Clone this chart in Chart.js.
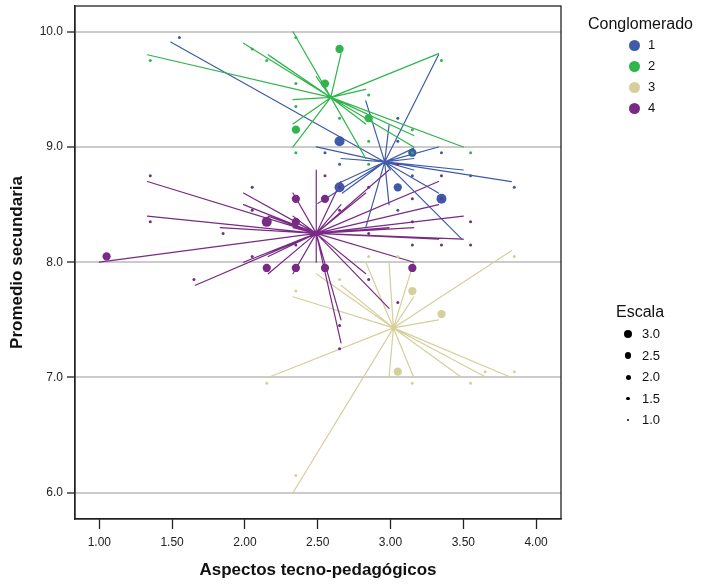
<!DOCTYPE html>
<html>
<head>
<meta charset="utf-8">
<script src="https://cdn.jsdelivr.net/npm/chart.js@4/dist/chart.umd.min.js"></script>
<style>
  body { margin: 0; background: #fff; font-family: "Liberation Sans", Arial, sans-serif; }
  #wrap { position: absolute; left: 0; top: 0; width: 702px; height: 584px; }
  .lg { position: absolute; color: #111; white-space: nowrap; }
  .dot { position: absolute; border-radius: 50%; }
</style>
</head>
<body>
<div id="wrap"><canvas id="myChart"></canvas></div>
<div id="legend"></div>
<script>
// Ticks
const xTicks = [1.0, 1.5, 2.0, 2.5, 3.0, 3.5, 4.0];
const yTicks = [6.0, 7.0, 8.0, 9.0, 10.0];

const clusterNames = ['1', '2', '3', '4'];
const clusterColors = ['#3d5aab', '#2eb54b', '#d5cf9a', '#782a84'];
const escalaLevels = [3.0, 2.5, 2.0, 1.5, 1.0];

// Centroides
const centroid1 = [2.96, 8.87];
const centroid2 = [2.59, 9.43];
const centroid3 = [3.02, 7.43];
const centroid4 = [2.49, 8.25];

// Extremos de las lineas (casos)
const lineEnds1 = [[1.49, 9.91], [3.33, 9.8], [2.49, 9.0], [2.83, 9.4], [2.99, 9.19], [3.33, 9.0],
  [3.5, 8.8], [3.83, 8.7], [2.66, 8.9], [3.16, 8.9], [2.65, 8.69], [2.67, 8.6], [2.83, 8.3],
  [3.49, 8.2], [3.33, 8.6], [2.99, 8.5], [2.5, 8.51], [3.16, 8.8], [3.0, 8.8], [3.16, 8.99]];
const lineEnds2 = [[1.33, 9.8], [1.99, 9.9], [2.16, 9.8], [2.17, 9.79], [2.33, 10.0], [2.33, 9.41],
  [2.33, 9.2], [2.33, 9.0], [2.49, 9.61], [2.66, 9.81], [3.33, 9.81], [2.83, 9.5], [3.16, 9.1],
  [3.16, 9.0], [3.5, 9.0], [2.83, 8.9], [2.83, 9.2]];
const lineEnds3 = [[3.83, 8.1], [2.83, 8.0], [2.99, 8.0], [3.16, 7.7], [3.33, 7.5], [2.66, 7.8],
  [2.49, 7.9], [2.33, 7.7], [2.16, 7.0], [2.33, 6.0], [2.99, 7.0], [3.16, 7.0], [3.49, 7.0],
  [3.66, 7.0], [3.83, 7.0], [3.16, 8.0]];
const lineEnds4 = [[1.33, 8.7], [1.99, 8.6], [1.99, 8.5], [1.33, 8.4], [1.83, 8.3], [1.0, 8.0],
  [1.66, 7.8], [1.99, 8.0], [2.16, 7.9], [2.33, 7.9], [2.33, 8.6], [2.49, 8.8], [2.49, 8.0],
  [2.99, 8.8], [3.33, 8.7], [3.33, 8.5], [3.5, 8.4], [3.16, 8.3], [3.5, 8.2], [3.33, 8.2],
  [3.16, 8.0], [2.83, 7.9], [2.99, 7.6], [2.66, 7.5], [2.66, 7.3], [2.66, 8.5], [2.83, 8.6],
  [2.16, 8.4], [2.33, 8.4], [2.16, 8.05], [2.33, 8.3], [2.99, 8.3], [2.66, 8.7]];

// Puntos: [x, y, escala]
const dots1 = [[1.55, 9.95, 1], [2.65, 9.05, 3], [3.05, 9.25, 1], [3.05, 9.05, 1], [2.55, 8.95, 1],
  [2.65, 8.85, 1], [3.35, 8.95, 1], [3.55, 8.75, 1], [3.85, 8.65, 1], [2.65, 8.65, 3], [3.35, 8.55, 3],
  [3.05, 8.65, 2.5], [3.05, 8.45, 1], [3.15, 8.75, 1], [3.15, 8.95, 2.5]];
const dots2 = [[1.35, 9.75, 1], [2.05, 9.85, 1], [2.15, 9.75, 1], [2.35, 9.95, 1], [2.35, 9.55, 1],
  [2.35, 9.35, 1], [2.35, 9.15, 2.5], [2.35, 8.95, 1], [2.65, 9.85, 2.5], [2.55, 9.55, 2.5],
  [3.35, 9.75, 1], [2.85, 9.45, 1], [2.85, 9.25, 2.5], [2.65, 9.25, 1], [3.55, 8.95, 1],
  [3.15, 9.15, 1], [2.85, 9.05, 1], [2.85, 8.85, 1], [3.15, 8.95, 1]];
const dots3 = [[2.85, 8.05, 1], [3.05, 8.05, 1], [3.85, 8.05, 1], [2.65, 7.85, 1], [3.15, 7.75, 2.5],
  [3.35, 7.55, 2.5], [2.35, 7.75, 1], [2.15, 6.95, 1], [2.35, 6.15, 1], [3.05, 7.05, 2.5],
  [3.15, 6.95, 1], [3.55, 6.95, 1], [3.65, 7.05, 1], [3.85, 7.05, 1]];
const dots4 = [[1.35, 8.75, 1], [2.05, 8.65, 1], [2.05, 8.45, 1], [2.15, 8.35, 3], [1.35, 8.35, 1],
  [1.85, 8.25, 1], [1.05, 8.05, 2.5], [1.65, 7.85, 1], [2.05, 8.05, 1], [2.15, 7.95, 2.5],
  [2.35, 7.95, 2.5], [2.35, 8.55, 2.5], [2.35, 8.35, 2.5], [2.35, 8.15, 1], [2.55, 8.75, 1],
  [2.55, 8.55, 2.5], [3.35, 8.75, 1], [3.15, 8.55, 1], [3.15, 8.35, 1], [3.55, 8.35, 1],
  [3.15, 8.15, 1], [3.35, 8.15, 1], [3.55, 8.15, 1], [2.85, 8.25, 1], [2.85, 8.65, 1],
  [3.05, 8.85, 1], [2.65, 8.45, 1], [2.65, 8.65, 1], [2.55, 7.95, 2.5], [3.15, 7.95, 2.5],
  [2.85, 7.85, 1], [3.05, 7.65, 1], [2.65, 7.45, 1], [2.65, 7.25, 1], [3.35, 8.55, 1]];

const centroids = [centroid1, centroid2, centroid3, centroid4];
const lineEnds = [lineEnds1, lineEnds2, lineEnds3, lineEnds4];
const dots = [dots1, dots2, dots3, dots4];

function escalaRadius(e) {
    return 1.5 + (e - 1) * 1.75;
}

// estrella: centroide -> caso -> centroide ...
function starData(c, ends) {
    const pts = [{ x: c[0], y: c[1] }];
    ends.forEach(e => {
        pts.push({ x: e[0], y: e[1] });
        pts.push({ x: c[0], y: c[1] });
    });
    return pts;
}

const datasets = [];
// puntos encima de las lineas
[3, 1, 0, 2].forEach(i => {
    datasets.push({
        label: 'pts' + clusterNames[i],
        data: dots[i].map(d => ({ x: d[0], y: d[1], e: d[2] })),
        backgroundColor: clusterColors[i],
        borderWidth: 0,
        pointRadius: ctx => ctx.raw ? escalaRadius(ctx.raw.e) : 2,
        showLine: false,
        order: 0
    });
});
[3, 2, 1, 0].forEach(i => {
    datasets.push({
        label: 'lin' + clusterNames[i],
        data: starData(centroids[i], lineEnds[i]),
        borderColor: clusterColors[i],
        borderWidth: 1.2,
        borderJoinStyle: 'round',
        pointRadius: 0,
        showLine: true,
        tension: 0,
        order: 1
    });
});

const frame = {
    id: 'frame',
    afterDraw(c) {
        const a = c.chartArea;
        const ctx = c.ctx;
        ctx.save();
        ctx.strokeStyle = '#222';
        ctx.lineWidth = 1.3;
        ctx.strokeRect(a.left, a.top, a.right - a.left, a.bottom - a.top);
        ctx.restore();
    }
};

const tickFont = { family: 'Liberation Sans, Arial', size: 12 };
const titleFont = { family: 'Liberation Sans, Arial', size: 17, weight: 'bold' };

new Chart(document.getElementById('myChart').getContext('2d'), {
    type: 'scatter',
    data: { datasets: datasets },
    options: {
        responsive: true,
        maintainAspectRatio: false,
        animation: false,
        layout: { padding: { top: 6, right: 141, left: 0, bottom: 0 } },
        plugins: { legend: { display: false }, tooltip: { enabled: false } },
        scales: {
            x: {
                type: 'linear',
                min: 0.833,
                max: 4.171,
                afterBuildTicks: s => { s.ticks = xTicks.map(v => ({ value: v })); },
                afterFit: s => { s.height = 65; s.paddingLeft = 0; s.paddingRight = 0; },
                grid: { drawOnChartArea: false, tickColor: '#222', tickLength: 10, tickWidth: 1.3 },
                border: { color: '#222', width: 1.3 },
                ticks: { color: '#222', font: tickFont, padding: 6, maxRotation: 0,
                    callback: v => v.toFixed(2) },
                title: { display: true, text: 'Aspectos tecno-pedagógicos', color: '#111',
                    font: titleFont, padding: { top: 0, bottom: 3 } }
            },
            y: {
                type: 'linear',
                min: 5.772,
                max: 10.223,
                afterBuildTicks: s => { s.ticks = yTicks.map(v => ({ value: v })); },
                afterFit: s => { s.width = 75; s.paddingTop = 0; s.paddingBottom = 0; },
                grid: { color: '#cbcbcb', lineWidth: 2, tickColor: '#222', tickLength: 8, tickWidth: 1.3 },
                border: { color: '#222', width: 1.3 },
                ticks: { color: '#222', font: tickFont, padding: 4,
                    callback: v => v.toFixed(1) },
                title: { display: true, text: 'Promedio secundaria', color: '#111',
                    font: titleFont, padding: { top: 7, bottom: 0 } }
            }
        }
    },
    plugins: [frame]
});

// Leyendas
function buildLegend() {
    const box = document.getElementById('legend');
    let html = '<div class="lg" style="left:588px;top:15px;font-size:16px;">Conglomerado</div>';
    clusterNames.forEach((n, i) => {
        const cy = 45 + i * 21;
        html += `<div class="dot" style="left:${634 - 5.5}px;top:${cy - 5.5}px;width:11px;height:11px;background:${clusterColors[i]}"></div>`;
        html += `<div class="lg" style="left:648px;top:${cy - 8}px;font-size:13px;">${n}</div>`;
    });
    html += '<div class="lg" style="left:616px;top:303px;font-size:16px;">Escala</div>';
    escalaLevels.forEach((v, i) => {
        const cy = 334 + i * 21.5;
        const r = 1 + (v - 1) * 1.5;
        html += `<div class="dot" style="left:${628 - r}px;top:${cy - r}px;width:${2 * r}px;height:${2 * r}px;background:#000"></div>`;
        html += `<div class="lg" style="left:642px;top:${cy - 8}px;font-size:13px;">${v.toFixed(1)}</div>`;
    });
    box.innerHTML = html;
}

buildLegend();
</script>
</body>
</html>
